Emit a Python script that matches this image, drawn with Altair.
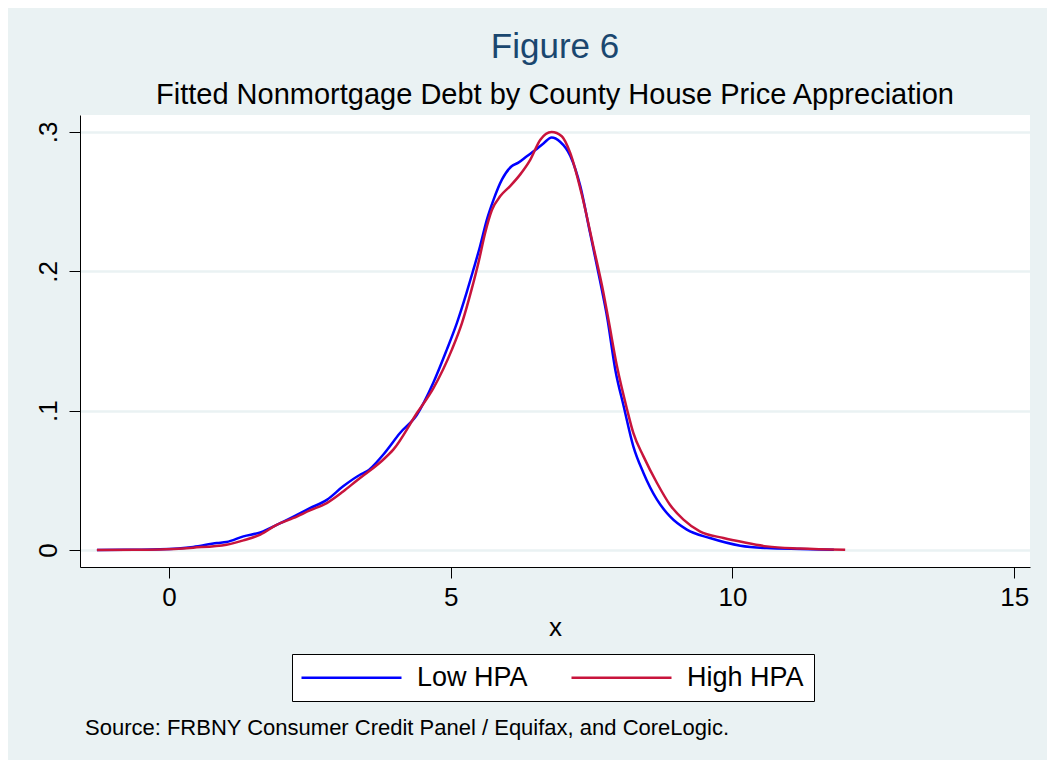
import altair as alt
import pandas as pd

# ---- data ----
low_x = [-1.28, -0.6, -0.16, 0.43, 0.85, 1.02, 1.32, 1.62, 1.91, 2.21, 2.50, 2.80, 3.09,
         3.39, 3.51, 3.80, 4.10, 4.40, 4.69, 4.93, 5.11, 5.28, 5.40, 5.52, 5.64, 5.76,
         5.91, 6.08, 6.20, 6.35, 6.50, 6.65, 6.79, 6.94, 7.12, 7.30, 7.47, 7.65, 7.78,
         7.92, 8.07, 8.24, 8.42, 8.66, 8.89, 9.19, 9.60, 10.14, 10.61, 11.2, 11.8]
low_y = [0.0, 0.0002, 0.0005, 0.0022, 0.0050, 0.0057, 0.0098, 0.0126, 0.0180, 0.0240,
         0.0300, 0.0360, 0.0457, 0.0540, 0.0564, 0.0684, 0.0840, 0.0971, 0.1200, 0.1438,
         0.1630, 0.1845, 0.2010, 0.2180, 0.2370, 0.2515, 0.2660, 0.2754, 0.2780, 0.2826,
         0.2870, 0.2920, 0.2960, 0.2930, 0.2830, 0.2610, 0.2280, 0.1930, 0.1660, 0.1294,
         0.1030, 0.0744, 0.0553, 0.0361, 0.0241, 0.0146, 0.0086, 0.0031, 0.0014, 0.0007,
         0.0002]

high_x = [-1.28, -0.6, -0.16, 0.43, 1.02, 1.32, 1.62, 1.91, 2.21, 2.50, 2.80, 3.09, 3.39,
          3.51, 3.80, 3.98, 4.40, 4.69, 5.02, 5.20, 5.37, 5.49, 5.61, 5.73, 5.88, 6.05,
          6.23, 6.41, 6.59, 6.79, 6.97, 7.12, 7.32, 7.53, 7.71, 7.80, 7.95, 8.13, 8.24,
          8.42, 8.66, 8.89, 9.13, 9.42, 9.84, 10.20, 10.61, 11.2, 12.0]
high_y = [0.0, 0.0002, 0.0004, 0.0017, 0.0038, 0.0069, 0.0110, 0.0180, 0.0230, 0.0284,
          0.0337, 0.0420, 0.0517, 0.0553, 0.0648, 0.0720, 0.0983, 0.1160, 0.1438, 0.1630,
          0.1870, 0.2060, 0.2276, 0.2440, 0.2540, 0.2610, 0.2694, 0.2800, 0.2945, 0.3000,
          0.2970, 0.2850, 0.2560, 0.2180, 0.1845, 0.1650, 0.1318, 0.1007, 0.0840, 0.0672,
          0.0481, 0.0325, 0.0218, 0.0134, 0.0086, 0.0055, 0.0026, 0.0011, 0.0002]

series_names = ["Low HPA", "High HPA"]
series_colors = ["#0000FF", "#C8143C"]
x_ticks = [0, 5, 10, 15]
y_ticks = [0, 0.1, 0.2, 0.3]
source_note = "Source: FRBNY Consumer Credit Panel / Equifax, and CoreLogic."

df = pd.concat([
    pd.DataFrame({"x": low_x, "y": low_y, "series": series_names[0], "order": range(len(low_x))}),
    pd.DataFrame({"x": high_x, "y": high_y, "series": series_names[1], "order": range(len(high_x))}),
], ignore_index=True)

FONT = "Liberation Sans"
BG = "#EAF2F3"

lines = alt.Chart(df).mark_line(strokeWidth=2.5, interpolate="monotone").encode(
    x=alt.X("x:Q", title="x",
            scale=alt.Scale(domain=[-1.58, 15.28], nice=False, zero=False),
            axis=alt.Axis(values=x_ticks, grid=False, tickSize=11, labelPadding=6,
                          labelFontSize=26, titleFontSize=26, titleFontWeight="normal",
                          titlePadding=4, labelFont=FONT, titleFont=FONT,
                          domainColor="black", tickColor="black", labelColor="black",
                          titleColor="black", labelFlush=False)),
    y=alt.Y("y:Q", title=None,
            scale=alt.Scale(domain=[-0.0122, 0.3122], nice=False, zero=False),
            axis=alt.Axis(values=y_ticks, grid=True, gridColor=BG, gridWidth=2.5,
                          tickSize=11, labelPadding=8, labelAngle=270, labelFontSize=26,
                          labelFont=FONT, domainColor="black", tickColor="black",
                          labelColor="black", labelFlush=False,
                          labelExpr="datum.value == 0 ? '0' : replace(format(datum.value, '.1f'), '0.', '.')")),
    color=alt.Color("series:N",
                    scale=alt.Scale(domain=series_names, range=series_colors),
                    legend=alt.Legend(title=None, orient="none", legendX=212, legendY=539,
                                      direction="horizontal", columns=2,
                                      symbolType="M-1,0H9", symbolSize=400,
                                      symbolStrokeWidth=2.5, labelFontSize=27,
                                      labelFont=FONT, labelColor="black",
                                      strokeColor="black", fillColor="white",
                                      padding=10, columnPadding=38, labelOffset=92,
                                      symbolOffset=-4)),
    order="order:Q",
)

note = alt.Chart(pd.DataFrame({"t": [source_note]})).mark_text(
    align="left", baseline="middle", fontSize=22, font=FONT, color="black"
).encode(text="t:N", x=alt.value(5), y=alt.value(613))

chart = alt.layer(lines, note).properties(
    width=950, height=452,
    autosize=alt.AutoSizeParams(type="none"),
    padding={"left": 72, "top": 107, "right": 17, "bottom": 193},
    background=BG,
    title=alt.TitleParams(text="Figure 6",
                          subtitle="Fitted Nonmortgage Debt by County House Price Appreciation",
                          anchor="middle", font=FONT, fontSize=35, fontWeight="normal",
                          color="#1A476F", subtitleFont=FONT, subtitleFontSize=29,
                          subtitleColor="black", offset=5, subtitlePadding=16),
).configure_view(fill="white", stroke=None, strokeWidth=0)

chart.save("out.html", embed_options={"renderer": "svg", "actions": False})
